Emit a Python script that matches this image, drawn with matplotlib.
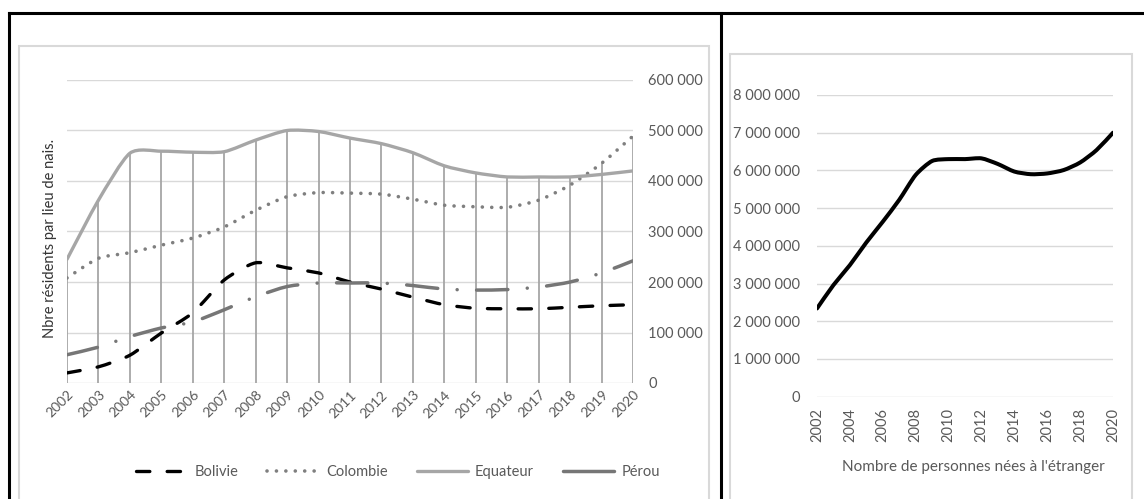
import matplotlib
matplotlib.use("Agg")
import matplotlib.pyplot as plt
import numpy as np
from matplotlib.lines import Line2D
from matplotlib.patches import PathPatch, Rectangle
from matplotlib.path import Path
from matplotlib.ticker import FuncFormatter

plt.rcParams['font.family'] = ['Lato', 'DejaVu Sans']

# --- données ---
years = list(range(2002, 2021))

bolivie = [20000, 32000, 55000, 99000, 139000, 204000, 238000, 228000, 218000, 200000,
           186000, 170000, 155000, 148000, 147000, 147000, 150000, 153000, 155000]
colombie = [208000, 247000, 258000, 273000, 287000, 309000, 342000, 369000, 377000, 376000,
            374000, 364000, 352000, 349000, 348000, 362000, 392000, 435000, 489000]
equateur = [245000, 362000, 455000, 459000, 457000, 458000, 481000, 500000, 498000, 485000,
            474000, 456000, 430000, 416000, 408000, 408000, 408000, 413000, 420000]
perou = [56000, 71000, 92000, 109000, 121000, 145000, 171000, 191000, 198000, 198000,
         198000, 193000, 186000, 184000, 185000, 190000, 200000, 218000, 242000]

etrangers = [2340000, 2960000, 3490000, 4090000, 4640000, 5220000, 5880000, 6250000, 6300000,
             6300000, 6320000, 6170000, 5970000, 5900000, 5920000, 6010000, 6210000, 6540000, 7000000]

W, H = 1144, 499
TXT = '#595959'


def px(x, y):
    """pixels (depuis le haut gauche) -> fraction de figure"""
    return x / W, 1 - y / H


def smooth_path(x, y, k=0.12):
    # courbe lissée façon Excel (Bezier)
    pts = np.column_stack([x, y]).astype(float)
    verts = [pts[0]]
    codes = [Path.MOVETO]
    n = len(pts)
    for i in range(n - 1):
        p0 = pts[max(i - 1, 0)]
        p1 = pts[i]
        p2 = pts[i + 1]
        p3 = pts[min(i + 2, n - 1)]
        c1 = p1 + (p2 - p0) * k
        c2 = p2 - (p3 - p1) * k
        verts += [c1, c2, p2]
        codes += [Path.CURVE4] * 3
    return Path(verts, codes)


def add_smooth(ax, x, y, **kw):
    patch = PathPatch(smooth_path(x, y), fill=False, **kw)
    ax.add_patch(patch)
    return patch


fmt = FuncFormatter(lambda v, p: f"{int(v):,}".replace(",", " "))

fig = plt.figure(figsize=(W / 100, H / 100), dpi=100)

# cadres
for (x0, y0, x1, y1) in [(9, 13, 1144, 13), (9, 13, 9, 499), (721, 13, 721, 499)]:
    a, b = px(x0, y0)
    c, d = px(x1, y1)
    fig.add_artist(Line2D([a, c], [b, d], color='black', lw=2.2))
for (x0, y0, x1, y1) in [(19, 46, 709, 505), (730, 54, 1132, 505)]:
    a, b = px(x0, y1)
    fig.add_artist(Rectangle((a, b), (x1 - x0) / W, (y1 - y0) / H, fill=False,
                             edgecolor='#d9d9d9', lw=1.5))

# --- graphique gauche ---
ax = fig.add_axes([67 / W, 1 - 383 / H, 566 / W, 303 / H])
ax.set_xlim(2002, 2020)
ax.set_ylim(0, 600000)
ax.set_yticks(range(0, 600001, 100000))
ax.yaxis.set_major_formatter(fmt)
ax.yaxis.tick_right()
ax.tick_params(axis='y', length=0, pad=11, labelsize=10.5, labelcolor=TXT)
ax.set_xticks(years)
ax.set_xticklabels([str(y) for y in years], rotation=45, ha='right', va='top',
                   rotation_mode='anchor')
ax.tick_params(axis='x', length=0, pad=4, labelsize=10, labelcolor=TXT)
ax.grid(axis='y', color='#d9d9d9', lw=1)
ax.set_axisbelow(True)
for s in ax.spines.values():
    s.set_visible(False)

tops = np.max([bolivie, colombie, equateur, perou], axis=0)
ax.vlines(years, 0, tops, color='#a6a6a6', lw=1.3, zorder=1.5)

styles = {
    'Bolivie': dict(color='black', lw=2.4, linestyle=(0, (4.0, 5.2)), capstyle='round'),
    'Colombie': dict(color='#7f7f7f', lw=2.6, linestyle=(0, (0.01, 2.6)), capstyle='round'),
    'Equateur': dict(color='#a6a6a6', lw=2.4, linestyle='-', capstyle='round'),
    'Pérou': dict(color='#767676', lw=2.5, linestyle=(0, (9.0, 5.6, 0.01, 5.6)), capstyle='round'),
}
series = {'Bolivie': bolivie, 'Colombie': colombie, 'Equateur': equateur, 'Pérou': perou}
handles = []
for name, vals in series.items():
    st = styles[name]
    add_smooth(ax, years, vals, edgecolor=st['color'], lw=st['lw'],
               linestyle=st['linestyle'], capstyle=st['capstyle'], zorder=3)
    hls = '-' if name == 'Pérou' else st['linestyle']
    handles.append(Line2D([], [], color=st['color'], lw=st['lw'], linestyle=hls,
                          dash_capstyle=st['capstyle'], solid_capstyle='round', label=name))

fig.text(*px(50, 238), 'Nbre résidents par lieu de nais.', rotation=90, ha='center',
         va='center', fontsize=10.5, color='#333333')

fig.legend(handles=handles, loc='center', bbox_to_anchor=px(398, 472), ncol=4,
           frameon=False, fontsize=10.5, handlelength=3.5, handletextpad=0.5,
           columnspacing=2.0, labelcolor=TXT)

# --- graphique droite ---
ax2 = fig.add_axes([817 / W, 1 - 396.7 / H, 296 / W, 301.7 / H])
ax2.set_xlim(2002, 2020)
ax2.set_ylim(0, 8000000)
ax2.set_yticks(range(0, 8000001, 1000000))
ax2.yaxis.set_major_formatter(fmt)
ax2.tick_params(axis='y', length=0, pad=12, labelsize=10.5, labelcolor=TXT)
ax2.set_xticks(years[::2])
ax2.set_xticklabels([str(y) for y in years[::2]], rotation=90)
ax2.tick_params(axis='x', length=0, pad=8, labelsize=10.5, labelcolor=TXT)
ax2.grid(axis='y', color='#d9d9d9', lw=1)
ax2.set_axisbelow(True)
for s in ax2.spines.values():
    s.set_visible(False)
add_smooth(ax2, years, etrangers, edgecolor='black', lw=2.9, capstyle='round', zorder=3)

fig.text(*px(973, 467), "Nombre de personnes nées à l'étranger", ha='center', va='center',
         fontsize=11, color=TXT)

fig.savefig('out.png', dpi=100)
